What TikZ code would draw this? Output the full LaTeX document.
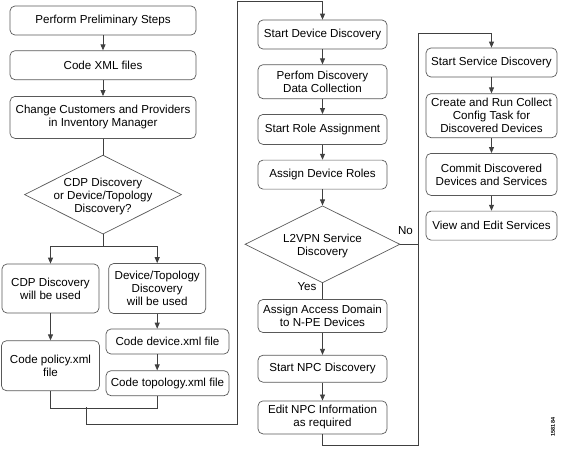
\documentclass[tikz,border=0pt]{standalone}
\usepackage{fontspec}
\setmainfont{Liberation Sans}
\usetikzlibrary{positioning,shapes.geometric,arrows.meta}

\begin{document}
\begin{tikzpicture}[
    x=1pt, y=-1pt,
    font=\fontsize{11.6}{13}\selectfont,
    node distance=15pt,
    box/.style={draw=black!65, line width=0.7pt, rounded corners=5pt, align=center, inner sep=1pt, minimum width=186pt, minimum height=29pt},
    midbox/.style={box, minimum width=129pt},
    rightbox/.style={box, minimum width=131pt},
    smallbox/.style={box, minimum width=97pt},
    decision/.style={draw=black!65, line width=0.7pt, diamond, inner sep=0pt},
    link/.style={draw=black!75, line width=0.8pt},
    flow/.style={link, -{Triangle[length=6pt,width=5pt]}}
]
\useasboundingbox (0,0) rectangle (562,448);

% Left column: preparation
\node (prelim) [box] at (103,20.5) {Perform Preliminary Steps};
\node (codexml) [box, below=15pt of prelim] {Code XML files};
\node (custprov) [box, minimum height=42pt, below=16pt of codexml] {Change Customers and Providers\\in Inventory Manager};

\draw[flow] (prelim) -- (codexml);
\draw[flow] (codexml) -- (custprov);

% Choice of discovery
\node (choice) [decision, minimum width=157pt, minimum height=79pt, below=16pt of custprov] {};
\node (choicetxt) [align=center] at ([yshift=-2pt]choice.center) {CDP Discovery\\or Device/Topology\\Discovery?};
\coordinate [below=12pt of choice.south] (split);

\draw[link] (custprov) -- (choice);
\draw[link] (choice.south) -- (split);

\node (cdp) [smallbox, minimum height=49pt] at (50.5,288.5) {CDP Discovery\\will be used};
\node (devtopo) [smallbox, minimum height=50pt, right=9pt of cdp] {Device/Topology\\Discovery\\will be used};

\draw[flow] (split) -| (cdp.north);
\draw[flow] (split) -| (devtopo.north);

\node (policy) [smallbox, minimum width=98pt, minimum height=50pt, below=27pt of cdp] {Code policy.xml\\file};
\node (devxml) [box, minimum width=123pt, minimum height=25pt] at (167.5,341.5) {Code device.xml file};
\node (topoxml) [box, minimum width=123pt, minimum height=25pt, below=16pt of devxml] {Code topology.xml file};

\draw[flow] (cdp) -- (policy);
\draw[flow] (devtopo) -- (devtopo |- devxml.north);
\draw[flow] (devtopo.south |- devxml.south) -- (devtopo.south |- topoxml.north);

% Merge and go to device discovery
\coordinate [below=17pt of policy.south] (mergeL);
\coordinate (drop) at (86,407);
\coordinate (bend) at (237,424);
\coordinate (topleft) at (237,1);

\draw[link] (policy.south) -- (mergeL) -| (devtopo.south |- topoxml.south);

% Middle column: device discovery
\node (devstart) [midbox] at (322.5,34.5) {Start Device Discovery};
\node (collect) [midbox, minimum height=34pt, below=15pt of devstart] {Perfom Discovery\\Data Collection};
\node (rolestart) [midbox, minimum height=30pt, below=15pt of collect] {Start Role Assignment};
\node (roles) [midbox, below=15pt of rolestart] {Assign Device Roles};

\draw[flow] (drop) |- (bend) -- (topleft) -| (devstart.north);
\draw[flow] (devstart) -- (collect);
\draw[flow] (collect) -- (rolestart);
\draw[flow] (rolestart) -- (roles);

\node (l2vpn) [decision, minimum width=155pt, minimum height=77pt, below=16pt of roles] {};
\node (l2vpntxt) [align=center] at ([yshift=-2pt]l2vpn.center) {L2VPN Service\\Discovery};

\draw[flow] (roles) -- (l2vpn);

\node (access) [midbox, minimum height=33pt, below=16pt of l2vpn] {Assign Access Domain\\to N-PE Devices};
\node (npcstart) [midbox, minimum height=27pt, below=22pt of access] {Start NPC Discovery};
\node (npcedit) [midbox, minimum height=33pt, below=18pt of npcstart] {Edit NPC Information\\as required};

\node (yeslbl) at (307,287) {Yes};
\node (nolbl) at (405.5,231) {No};

\draw[link] (l2vpn) -- (access);
\draw[flow] (access) -- (npcstart);
\draw[flow] (npcstart) -- (npcedit);

% Right column: service discovery
\node (svcstart) [rightbox] at (491.5,62.5) {Start Service Discovery};
\node (collcfg) [rightbox, minimum height=44pt, below=16pt of svcstart] {Create and Run Collect\\Config Task for\\Discovered Devices};
\node (commit) [rightbox, minimum height=42pt, below=15pt of collcfg] {Commit Discovered\\Devices and Services};
\node (viewedit) [rightbox, below=15pt of commit] {View and Edit Services};

\coordinate (loopbot) at (418,445);
\coordinate (looptop) at (418,33);

\draw[flow] (npcedit.south) |- (loopbot) -- (looptop) -| (svcstart.north);
\draw[link] (l2vpn.east) -- (l2vpn.east -| loopbot);
\draw[flow] (svcstart) -- (collcfg);
\draw[flow] (collcfg) -- (commit);
\draw[flow] (commit) -- (viewedit);

\node (figid) [rotate=90, font=\fontsize{5.5}{6}\selectfont\bfseries] at (553,427) {158184};

\end{tikzpicture}
\end{document}
